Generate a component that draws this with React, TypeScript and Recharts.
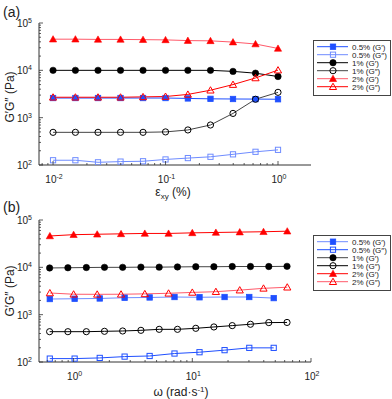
import React from 'react';
import { LineChart, Line, XAxis, YAxis, Legend } from 'recharts';

// ---------- data (a) strain sweep ----------
const strainPct = [0.01, 0.0158, 0.0251, 0.0398, 0.0631, 0.1, 0.158, 0.251, 0.398, 0.631, 1.0];
const aGp05 = [2600, 2600, 2600, 2600, 2600, 2600, 2550, 2500, 2480, 2470, 2450];
const aGpp05 = [126, 126, 114, 118, 120, 131, 140, 149, 168, 190, 209];
const aGp1 = [10000, 10000, 10000, 10000, 10000, 10000, 10000, 10000, 9500, 8700, 7400];
const aGpp1 = [490, 490, 490, 490, 490, 500, 550, 700, 1230, 2450, 3430];
const aGp2 = [45500, 45500, 45000, 45000, 44500, 44000, 42500, 42000, 39500, 36000, 29000];
const aGpp2 = [2700, 2700, 2700, 2700, 2750, 2800, 3100, 3800, 5000, 6900, 10100];

// ---------- data (b) frequency sweep ----------
const omega1 = [0.628, 0.895, 1.28, 1.82, 2.59, 3.69, 5.26, 7.5, 10.7, 15.2, 21.7, 30.9, 44.1, 62.8];
const bGp1 = [9700, 9800, 9900, 10000, 10000, 10100, 10100, 10200, 10300, 10300, 10400, 10400, 10400, 10500];
const bGpp1 = [437, 437, 437, 445, 452, 467, 490, 490, 515, 550, 587, 627, 680, 685];
const omega2 = [0.631, 1.0, 1.58, 2.51, 3.98, 6.31, 10, 15.8, 25.1, 39.8, 63.1];
const bGp2 = [46000, 49000, 50000, 51000, 52000, 52000, 53500, 54500, 55500, 56500, 58000];
const bGpp2 = [2870, 2700, 2690, 2700, 2750, 2830, 2950, 3060, 3300, 3600, 3800];
const omega05 = [0.63, 1.02, 1.66, 2.69, 4.37, 7.08, 11.5, 18.7, 30.2, 48.5];
const bGp05 = [2140, 2170, 2200, 2280, 2310, 2360, 2330, 2360, 2360, 2240];
const bGpp05 = [118, 118, 122, 130, 134, 151, 161, 178, 199, 199];

// ---------- labels ----------
const seriesNames = ['0.5% (G\u2032)', '0.5% (G\u2033)', '1% (G\u2032)', '1% (G\u2033)', '2% (G\u2032)', '2% (G\u2033)'];
const panelTitles = ['(a)', '(b)'];
const yLabel = 'G\u2032G\u2033 (Pa)';

const Y_DOMAIN: [number, number] = [100, 100000];
const XA_DOMAIN: [number, number] = [0.0075, 1.965];
const XB_DOMAIN: [number, number] = [0.511, 100];

type Pt = { x: number; y: number };
type Marker = 'sqF' | 'sqO' | 'ciF' | 'ciO' | 'trF' | 'trO';
interface Series { name: string; data: Pt[]; line: string; mark: string; marker: Marker }

const zip = (xs: number[], ys: number[]): Pt[] => xs.map((x, i) => ({ x, y: ys[i] }));

const BLUE = '#1f4fff';
const BLUE_L = '#6f8cff';
const RED = '#ff0000';
const RED_L = '#ff5a6a';
const BLACK = '#000000';
const GRAY = '#444444';

const seriesA: Series[] = [
  { name: seriesNames[0], data: zip(strainPct, aGp05), line: BLUE, mark: BLUE, marker: 'sqF' },
  { name: seriesNames[1], data: zip(strainPct, aGpp05), line: BLUE_L, mark: BLUE_L, marker: 'sqO' },
  { name: seriesNames[2], data: zip(strainPct, aGp1), line: BLACK, mark: BLACK, marker: 'ciF' },
  { name: seriesNames[3], data: zip(strainPct, aGpp1), line: GRAY, mark: BLACK, marker: 'ciO' },
  { name: seriesNames[4], data: zip(strainPct, aGp2), line: RED_L, mark: RED, marker: 'trF' },
  { name: seriesNames[5], data: zip(strainPct, aGpp2), line: RED, mark: RED, marker: 'trO' },
];

const seriesB: Series[] = [
  { name: seriesNames[0], data: zip(omega05, bGp05), line: BLUE_L, mark: BLUE, marker: 'sqF' },
  { name: seriesNames[1], data: zip(omega05, bGpp05), line: BLUE, mark: BLUE, marker: 'sqO' },
  { name: seriesNames[2], data: zip(omega1, bGp1), line: GRAY, mark: BLACK, marker: 'ciF' },
  { name: seriesNames[3], data: zip(omega1, bGpp1), line: BLACK, mark: BLACK, marker: 'ciO' },
  { name: seriesNames[4], data: zip(omega2, bGp2), line: RED, mark: RED, marker: 'trF' },
  { name: seriesNames[5], data: zip(omega2, bGpp2), line: RED_L, mark: RED, marker: 'trO' },
];

const drawMarker = (m: Marker, cx: number, cy: number, color: string, key?: string | number) => {
  if (cx == null || cy == null || isNaN(cx) || isNaN(cy)) return <g key={key} />;
  switch (m) {
    case 'sqF':
      return <rect key={key} x={cx - 2.7} y={cy - 2.7} width={5.4} height={5.4} fill={color} stroke={color} strokeWidth={0.8} />;
    case 'sqO':
      return <rect key={key} x={cx - 2.6} y={cy - 2.6} width={5.2} height={5.2} fill="none" stroke={color} strokeWidth={1} />;
    case 'ciF':
      return <circle key={key} cx={cx} cy={cy} r={3.2} fill={color} stroke={color} strokeWidth={0.6} />;
    case 'ciO':
      return <circle key={key} cx={cx} cy={cy} r={3.1} fill="none" stroke={color} strokeWidth={1} />;
    case 'trF':
      return <polygon key={key} points={`${cx},${cy - 3.5} ${cx - 3.6},${cy + 2.8} ${cx + 3.6},${cy + 2.8}`} fill={color} stroke={color} strokeWidth={0.6} />;
    default:
      return <polygon key={key} points={`${cx},${cy - 3.5} ${cx - 3.6},${cy + 2.8} ${cx + 3.6},${cy + 2.8}`} fill="none" stroke={color} strokeWidth={1} />;
  }
};

// log ticks (major + minor) inside a domain
const logTicks = (lo: number, hi: number): number[] => {
  const out: number[] = [];
  for (let e = Math.floor(Math.log10(lo)); e <= Math.ceil(Math.log10(hi)); e++) {
    for (let m = 1; m < 10; m++) {
      const v = +(m * Math.pow(10, e)).toPrecision(4);
      if (v >= lo * 0.9999 && v <= hi * 1.0001) out.push(v);
    }
  }
  return out;
};
const isMajor = (v: number) => Math.abs(Math.log10(v) - Math.round(Math.log10(v))) < 1e-6;

const AXIS_COLOR = '#333333';
const FONT = '"Liberation Sans", Arial, sans-serif';

const Pow = ({ x, y, anchor, exp }: { x: number; y: number; anchor: 'middle' | 'end'; exp: number }) => (
  <text x={x} y={y} textAnchor={anchor} fontFamily={FONT} fontSize={10} fill="#222">
    10<tspan dy={-4} fontSize={7}>{String(exp)}</tspan>
  </text>
);

const makeTick = (side: 'bottom' | 'top' | 'left' | 'right') => (props: any) => {
  const { x, y, payload } = props;
  const v = payload.value as number;
  const major = isMajor(v);
  const len = major ? 4 : 2;
  const exp = Math.round(Math.log10(v));
  let line: React.ReactNode = null;
  let label: React.ReactNode = null;
  if (side === 'bottom') {
    line = <line x1={x} y1={y} x2={x} y2={y - len} stroke={AXIS_COLOR} strokeWidth={0.8} />;
    if (major) label = <Pow x={x + 1} y={y + 18} anchor="middle" exp={exp} />;
  } else if (side === 'top') {
    line = <line x1={x} y1={y} x2={x} y2={y + len} stroke={AXIS_COLOR} strokeWidth={0.8} />;
  } else if (side === 'left') {
    line = <line x1={x} y1={y} x2={x + len} y2={y} stroke={AXIS_COLOR} strokeWidth={0.8} />;
    if (major) label = <Pow x={x - 7} y={y + 4} anchor="end" exp={exp} />;
  } else {
    line = <line x1={x} y1={y} x2={x - len} y2={y} stroke={AXIS_COLOR} strokeWidth={0.8} />;
  }
  return <g>{line}{label}</g>;
};

const LegendBox = ({ series }: { series: Series[] }) => (
  <svg width={79} height={56} style={{ display: 'block' }}>
    <rect x={0.5} y={0.5} width={77} height={55} fill="#fff" stroke="#444" strokeWidth={1} />
    {series.map((s, i) => {
      const cy = 6.7 + 8 * i;
      return (
        <g key={i}>
          <line x1={4} x2={35} y1={cy} y2={cy} stroke={s.line} strokeWidth={1} />
          {drawMarker(s.marker, 20, cy, s.mark)}
          <text x={39} y={cy + 3} fontFamily={FONT} fontSize={8} fill="#222">{s.name}</text>
        </g>
      );
    })}
  </svg>
);

const Panel = ({ series, xDomain, height, marginTop, legendTop }: { series: Series[]; xDomain: [number, number]; height: number; marginTop: number; legendTop: number }) => {
  const xTicks = logTicks(xDomain[0], xDomain[1]);
  const yTicks = logTicks(Y_DOMAIN[0], Y_DOMAIN[1]);
  const common = { tickLine: false, tickSize: 0, tickMargin: 0, interval: 0 as const, allowDataOverflow: true, axisLine: { stroke: AXIS_COLOR, strokeWidth: 1 } };
  return (
    <LineChart width={392} height={height} margin={{ top: marginTop, right: 81, bottom: height - marginTop - 142 - 30, left: 0 }}>
      <XAxis xAxisId="b" orientation="bottom" dataKey="x" type="number" scale="log" domain={xDomain} ticks={xTicks} height={30} tick={makeTick('bottom')} {...common} />
      <XAxis xAxisId="t" orientation="top" dataKey="x" type="number" scale="log" domain={xDomain} ticks={xTicks} height={0} tick={makeTick('top')} {...common} />
      <YAxis yAxisId="l" orientation="left" type="number" scale="log" domain={Y_DOMAIN} ticks={yTicks} width={39} tick={makeTick('left')} {...common} />
      <YAxis yAxisId="r" orientation="right" type="number" scale="log" domain={Y_DOMAIN} ticks={yTicks} width={0} tick={makeTick('right')} {...common} />
      {series.map((s, i) => (
        <Line
          key={i}
          xAxisId="b"
          yAxisId="l"
          data={s.data}
          dataKey="y"
          name={s.name}
          type="linear"
          stroke={s.line}
          strokeWidth={1}
          isAnimationActive={false}
          activeDot={false}
          dot={(p: any) => drawMarker(s.marker, p.cx, p.cy, s.mark, `${i}-${p.index}`)}
        />
      ))}
      <Legend
        layout="vertical"
        align="center"
        verticalAlign="middle"
        wrapperStyle={{ left: 313, top: legendTop, width: 79, height: 56 }}
        content={() => <LegendBox series={series} />}
      />
    </LineChart>
  );
};

export default function App() {
  return (
    <div style={{ position: 'absolute', left: 0, top: 0, width: 392, height: 399, background: '#fff', overflow: 'hidden' }}>
      <div style={{ position: 'absolute', left: 0, top: 0 }}>
        <Panel series={seriesA} xDomain={XA_DOMAIN} height={200} marginTop={23} legendTop={40} />
      </div>
      <div style={{ position: 'absolute', left: 0, top: 196 }}>
        <Panel series={seriesB} xDomain={XB_DOMAIN} height={203} marginTop={24} legendTop={39} />
      </div>
      <svg width={392} height={399} style={{ position: 'absolute', left: 0, top: 0, pointerEvents: 'none' }}>
        <text x={3} y={17} fontFamily={FONT} fontSize={14} fill="#222">{panelTitles[0]}</text>
        <text x={3} y={212} fontFamily={FONT} fontSize={14} fill="#222">{panelTitles[1]}</text>
        <text transform="translate(14,97) rotate(-90)" textAnchor="middle" fontFamily={FONT} fontSize={12} fill="#222">{yLabel}</text>
        <text transform="translate(14,291) rotate(-90)" textAnchor="middle" fontFamily={FONT} fontSize={12} fill="#222">{yLabel}</text>
        <text x={173} y={196} textAnchor="middle" fontFamily={FONT} fontSize={12} fill="#222">
          {'\u03b5'}<tspan dy={3} fontSize={8}>xy</tspan><tspan dy={-3}>{' (%)'}</tspan>
        </text>
        <text x={181} y={396} textAnchor="middle" fontFamily={FONT} fontSize={12} fill="#222">
          {'\u03c9 (rad\u00b7s'}<tspan dy={-4} fontSize={8}>-1</tspan><tspan dy={4}>)</tspan>
        </text>
      </svg>
    </div>
  );
}
